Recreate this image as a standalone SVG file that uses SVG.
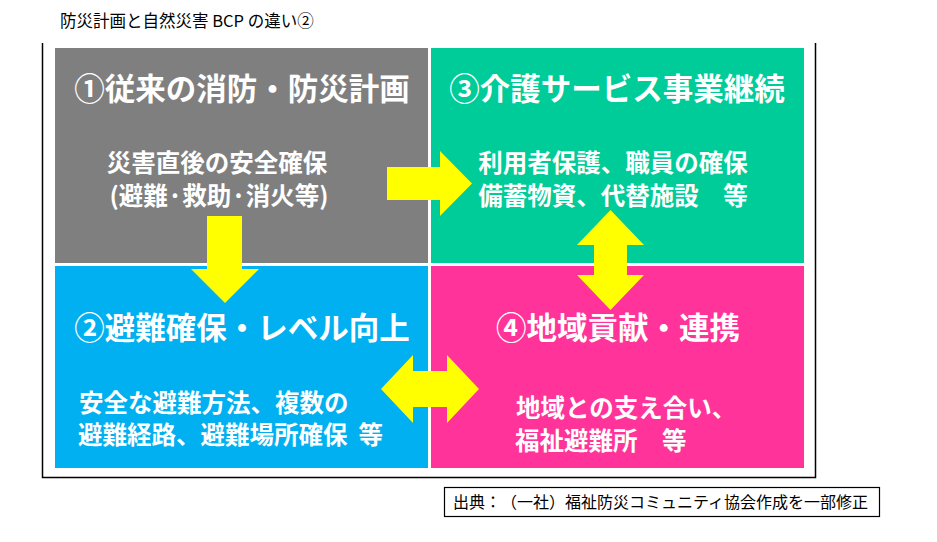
<svg xmlns="http://www.w3.org/2000/svg" width="937" height="542" viewBox="0 0 937 542">
<style>
  text { font-family: "Noto Sans CJK JP", "Noto Sans", sans-serif; text-spacing-trim: space-all; }
  .ttl { font-size: 30.5px; font-weight: bold; fill: #ffffff; text-anchor: middle; }
  .body { font-size: 24.5px; font-weight: bold; fill: #ffffff; }
  .mid { text-anchor: middle; }
  .arrow { fill: #FFFF00; }
  .cap { font-size: 16px; fill: #000000; }
</style>
<rect width="937" height="542" fill="#ffffff"/>
<text x="60" y="27" style="font-size:16.5px;fill:#000">防災計画と自然災害 BCP の違い②</text>
<path d="M42.5 43 V477.5 H815.5 V43" fill="none" stroke="#000" stroke-width="1.5"/>

<g id="node1">
  <rect x="55" y="48" width="373" height="215" fill="#7F7F7F"/>
  <text class="ttl" x="242" y="100">①従来の消防・防災計画</text>
  <text class="body mid" x="217" y="172">災害直後の安全確保</text>
  <text class="body mid" x="219" y="205">(避難·救助·消火等)</text>
</g>
<g id="node3">
  <rect x="431" y="48" width="373" height="215" fill="#00CC99"/>
  <text class="ttl" x="617" y="100">③介護サービス事業継続</text>
  <text class="body mid" x="613" y="172">利用者保護、職員の確保</text>
  <text class="body mid" x="613" y="205">備蓄物資、代替施設　等</text>
</g>
<g id="node2">
  <rect x="55" y="266" width="373" height="202" fill="#00B0F0"/>
  <text class="ttl" x="242" y="339">②避難確保・レベル向上</text>
  <text class="body" x="79" y="412">安全な避難方法、複数の</text>
  <text class="body" x="78" y="444">避難経路、避難場所確保<tspan dx="11">等</tspan></text>
</g>
<g id="node4">
  <rect x="431" y="266" width="373" height="202" fill="#FF3399"/>
  <text class="ttl" x="618" y="339">④地域貢献・連携</text>
  <text class="body" x="516" y="417">地域との支え合い、</text>
  <text class="body" x="515" y="450">福祉避難所　等</text>
</g>

<g id="connectors">
  <polygon class="arrow" points="387,167 440,167 440,151 472,183.5 440,216 440,200 387,200"/>
  <polygon class="arrow" points="207,216 242,216 242,269 259,269 225,303 191,269 207,269"/>
  <polygon class="arrow" points="610.5,210 644,245 627,245 627,275 644,275 610.5,310 577,275 594,275 594,245 577,245"/>
  <polygon class="arrow" points="381,389 413,355 413,371 447,371 447,355 479,389 447,423 447,407 413,407 413,423"/>
</g>

<g id="caption">
  <rect x="444.5" y="487.5" width="435" height="29" fill="#ffffff" stroke="#000" stroke-width="1.2"/>
  <text class="cap" x="453" y="508">出典：（一社）福祉防災コミュニティ協会作成を一部修正</text>
</g>
</svg>
